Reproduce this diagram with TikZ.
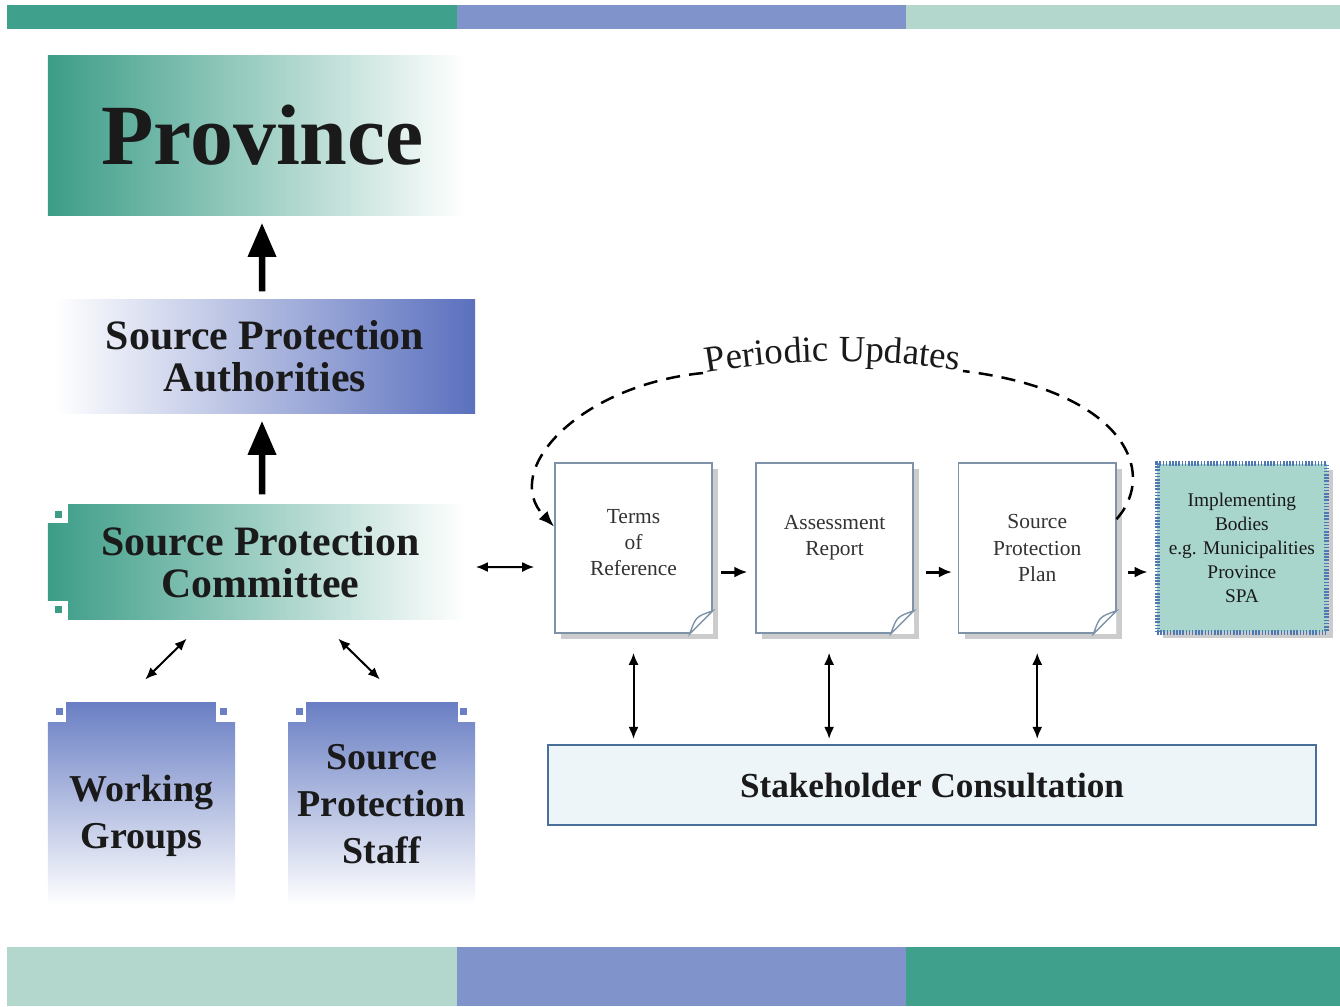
\documentclass[tikz,border=0pt]{standalone}
\usepackage{fontspec}
\setmainfont{Liberation Serif}
\usetikzlibrary{positioning,arrows.meta,calc,shadows,decorations.text}

\definecolor{barGreen}{HTML}{3FA08C}
\definecolor{barBlue}{HTML}{8193CB}
\definecolor{barMint}{HTML}{B3D6CD}
\definecolor{provGreen}{HTML}{3C9D87}
\definecolor{spaBlue}{HTML}{5B70BE}
\definecolor{wgBlue}{HTML}{6A7FC4}
\definecolor{docEdge}{HTML}{7F93A8}
\definecolor{docText}{HTML}{333333}
\definecolor{textDark}{HTML}{1A1A1A}
\definecolor{impFill}{HTML}{A8D5CC}
\definecolor{impEdge}{HTML}{4F78B2}
\definecolor{scFill}{HTML}{EEF5F9}
\definecolor{scEdge}{HTML}{4A7099}

\tikzset{
    orgbox/.style = {
        shape=rectangle,
        inner sep=0pt,
        align=center,
        text=textDark,
        font=\bfseries\fontsize{11.9}{12}\selectfont
    },
    groupbox/.style = {
        orgbox,
        top color=wgBlue,
        bottom color=white,
        minimum width=1.87cm,
        minimum height=2.02cm,
        font=\bfseries\fontsize{10.8}{13.3}\selectfont
    },
    docbox/.style = {
        draw=docEdge,
        line width=0.4pt,
        fill=white,
        shape=rectangle,
        minimum width=1.57cm,
        minimum height=1.7cm,
        align=center,
        text=docText,
        font=\fontsize{6.1}{7.4}\selectfont,
        drop shadow={shadow xshift=0.06cm, shadow yshift=-0.06cm, fill=black!50, opacity=0.4}
    },
    impbox/.style = {
        draw=impEdge,
        line width=0.05cm,
        dash pattern=on 0.45pt off 0.45pt,
        fill=impFill,
        shape=rectangle,
        minimum width=1.58cm,
        minimum height=1.68cm,
        align=center,
        text=textDark,
        font=\fontsize{5.5}{6.8}\selectfont,
        drop shadow={shadow xshift=0.06cm, shadow yshift=-0.06cm, fill=black!50, opacity=0.4}
    },
    bigarrow/.style = {
        -{Triangle[length=0.34cm,width=0.27cm]},
        line width=0.065cm
    },
    flow/.style = {
        -{Latex[length=0.13cm,width=0.11cm]},
        line width=0.03cm
    },
    dbl/.style = {
        {Latex[length=0.12cm,width=0.1cm]}-{Latex[length=0.12cm,width=0.1cm]},
        line width=0.02cm
    },
    update/.style = {
        line width=0.025cm,
        dash pattern=on 4pt off 2.6pt
    },
}

\begin{document}
\begin{tikzpicture}[x=0.01cm, y=-0.01cm, on grid]
    \useasboundingbox (0,0) rectangle (1340,1006);

    % colour bars
    \fill[barGreen] (7,5) rectangle (457,29);
    \fill[barBlue] (457,5) rectangle (906,29);
    \fill[barMint] (906,5) rectangle (1340,29);
    \fill[barMint] (7,947) rectangle (457,1006);
    \fill[barBlue] (457,947) rectangle (906,1006);
    \fill[barGreen] (906,947) rectangle (1340,1006);

    % organisation
    \node[orgbox, left color=provGreen, right color=white, minimum width=4.17cm, minimum height=1.59cm, font=\bfseries\fontsize{24.4}{26}\selectfont] (prov) at (256.5,135.5) {\hspace*{0.12cm}\raisebox{-0.07cm}{Province}};
    \node[orgbox, left color=white, right color=spaBlue, minimum width=4.2cm, minimum height=1.13cm] (spa) at (265,356.5) {Source Protection\\Authorities};
    \node[orgbox, left color=provGreen, right color=white, minimum width=4.17cm, minimum height=1.14cm] (spc) at (256.5,562) {\hspace*{0.08cm}Source Protection\\\hspace*{0.08cm}Committee};
    \node[groupbox] (wg) at (141.5,804) {\rule{0pt}{0.5cm}Working\\Groups};
    \node[groupbox, right=2.4cm of wg] (sps) {Source\\Protection\\Staff};

    % notched corners
    \fill[white] (spc.north west) rectangle ++(21,19);
    \fill[white] (spc.south west) rectangle ++(21,-19);
    \fill[provGreen] ($(spc.north west)+(8,7)$) rectangle ++(7,7);
    \fill[provGreen] ($(spc.south west)+(8,-7)$) rectangle ++(7,-7);
    \fill[white] (wg.north west) rectangle ++(19,20);
    \fill[white] (wg.north east) rectangle ++(-20,20);
    \fill[wgBlue] ($(wg.north west)+(9,6)$) rectangle ++(7,7);
    \fill[wgBlue] ($(wg.north east)+(-16,6)$) rectangle ++(7,7);
    \fill[white] (sps.north west) rectangle ++(19,20);
    \fill[white] (sps.north east) rectangle ++(-18,20);
    \fill[wgBlue] ($(sps.north west)+(9,6)$) rectangle ++(7,7);
    \fill[wgBlue] ($(sps.north east)+(-16,6)$) rectangle ++(7,7);

    % planning documents
    \node[docbox] (tor) at (633.5,548) {Terms\\of\\Reference\\[-0.14cm]};
    \node[docbox, right=2.01cm of tor] (ar) {Assessment\\Report\\};
    \node[docbox, right=2.025cm of ar] (spp) {Source\\Protection\\Plan};
    \node[impbox, right=2.045cm of spp] (imp) {Implementing\\Bodies\\e.g. Municipalities\\Province\\SPA};
    \node[draw=scEdge, line width=0.6pt, fill=scFill, minimum width=7.68cm, minimum height=0.8cm, text=textDark, font=\bfseries\fontsize{10}{12}\selectfont] (sc) at (932,785) {Stakeholder Consultation};

    % page curls
    \fill[white] ($(tor.south east)+(-23,0)$) -- ([shift={(0.2,0.2)}]tor.south east) -- ($(tor.south east)+(0,-23)$) -- cycle;
    \draw[docEdge, fill=white, line width=0.4pt] ($(tor.south east)+(-23,0)$) .. controls ($(tor.south east)+(-17,-17)$) .. ($(tor.south east)+(0,-23)$) -- cycle;
    \fill[white] ($(ar.south east)+(-23,0)$) -- ([shift={(0.2,0.2)}]ar.south east) -- ($(ar.south east)+(0,-23)$) -- cycle;
    \draw[docEdge, fill=white, line width=0.4pt] ($(ar.south east)+(-23,0)$) .. controls ($(ar.south east)+(-17,-17)$) .. ($(ar.south east)+(0,-23)$) -- cycle;
    \fill[white] ($(spp.south east)+(-23,0)$) -- ([shift={(0.2,0.2)}]spp.south east) -- ($(spp.south east)+(0,-23)$) -- cycle;
    \draw[docEdge, fill=white, line width=0.4pt] ($(spp.south east)+(-23,0)$) .. controls ($(spp.south east)+(-17,-17)$) .. ($(spp.south east)+(0,-23)$) -- cycle;

    % reporting lines
    \path[draw, bigarrow, shorten <=0.08cm, shorten >=0.07cm] ([xshift=-0.03cm]spa.north) -- ([xshift=0.055cm]prov.south);
    \path[draw, bigarrow, shorten <=0.1cm, shorten >=0.07cm] ([xshift=0.055cm]spc.north) -- ([xshift=-0.03cm]spa.south);
    \path[draw, dbl, shorten <=0.325cm, shorten >=0.27cm] ($(wg.north)+(-19.5,0)$) -- ($(spc.south)+(-50.5,0)$);
    \path[draw, dbl, shorten <=0.325cm, shorten >=0.27cm] ($(sps.north)+(21.5,0)$) -- ($(spc.south)+(62.5,0)$);
    \path[draw, dbl, shorten <=0.1cm, shorten >=0.2cm] ([yshift=-0.05cm]spc.east) -- ([yshift=-0.19cm]tor.west);

    % document flow
    \path[draw, flow, shorten <=0.08cm, shorten >=0.08cm] ([yshift=-0.24cm]tor.east) -- ([yshift=-0.24cm]ar.west);
    \path[draw, flow, shorten <=0.12cm, shorten >=0.06cm] ([yshift=-0.24cm]ar.east) -- ([yshift=-0.24cm]spp.west);
    \path[draw, flow, shorten <=0.11cm, shorten >=0.07cm] ([yshift=-0.24cm]spp.east) -- ([yshift=-0.24cm]imp.west);
    \path[draw, dbl, shorten <=0.19cm, shorten >=0.05cm] (tor.south) -- (tor.south |- sc.north);
    \path[draw, dbl, shorten <=0.19cm, shorten >=0.05cm] ([xshift=-0.055cm]ar.south) -- ([xshift=-0.055cm]ar.south |- sc.north);
    \path[draw, dbl, shorten <=0.19cm, shorten >=0.05cm] (spp.south) -- (spp.south |- sc.north);

    % periodic updates
    \coordinate (pu-l) at (703,373);
    \coordinate (pu-r) at (963,371);
    \draw[update, -{Latex[length=0.16cm,width=0.12cm]}] (pu-l) .. controls (580,385) and (500,470) .. (tor.165);
    \draw[update] (spp.20) .. controls (1160,470) and (1120,390) .. (pu-r);
    \path[decorate, decoration={text along path, text align=center, text color=textDark, text={|\fontsize{10.5}{12}\selectfont|Periodic Updates}}] (pu-l) .. controls (790,358) and (880,358) .. (pu-r);
\end{tikzpicture}
\end{document}
